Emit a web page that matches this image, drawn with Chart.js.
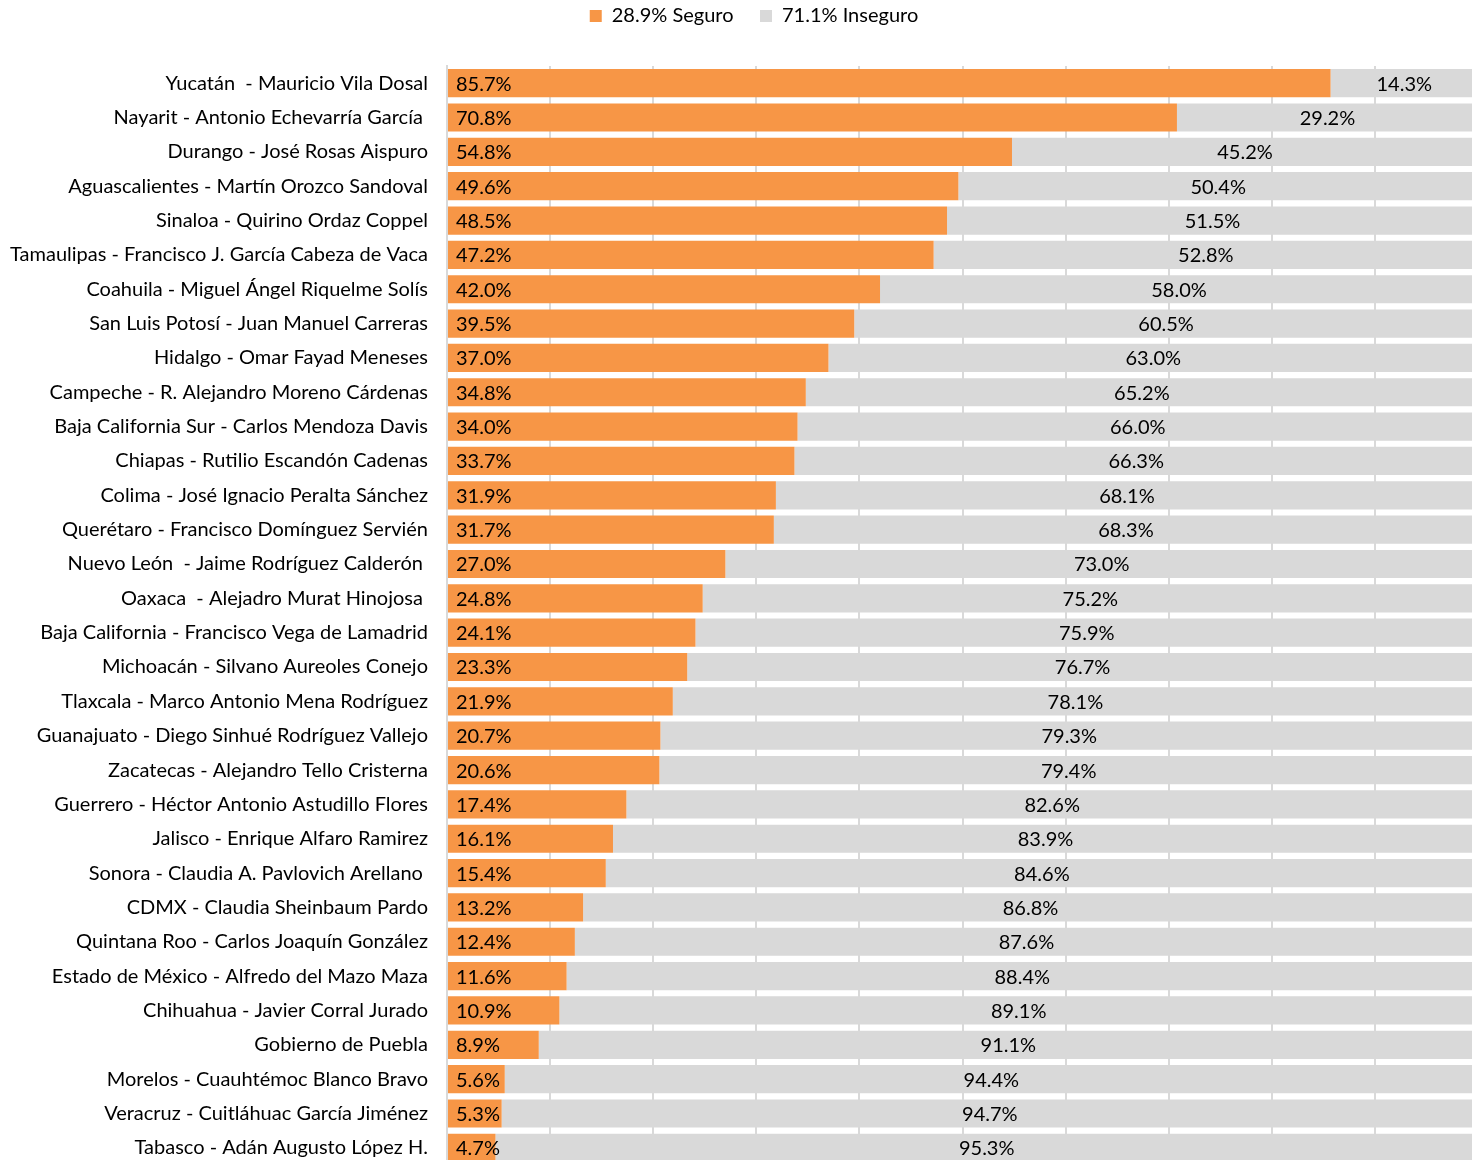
<!DOCTYPE html>
<html>
<head>
<meta charset="utf-8">
<script src="https://cdn.jsdelivr.net/npm/chart.js@4"></script>
<style>
  html, body { margin: 0; padding: 0; background: #fff; overflow: hidden; }
  canvas { display: block; }
</style>
</head>
<body>
<canvas id="myChart" width="1478" height="1177"></canvas>
<script>
var labels = [
    'Yucatán  - Mauricio Vila Dosal',
    'Nayarit - Antonio Echevarría García ',
    'Durango - José Rosas Aispuro',
    'Aguascalientes - Martín Orozco Sandoval',
    'Sinaloa - Quirino Ordaz Coppel',
    'Tamaulipas - Francisco J. García Cabeza de Vaca',
    'Coahuila - Miguel Ángel Riquelme Solís',
    'San Luis Potosí - Juan Manuel Carreras',
    'Hidalgo - Omar Fayad Meneses',
    'Campeche - R. Alejandro Moreno Cárdenas',
    'Baja California Sur - Carlos Mendoza Davis',
    'Chiapas - Rutilio Escandón Cadenas',
    'Colima - José Ignacio Peralta Sánchez',
    'Querétaro - Francisco Domínguez Servién',
    'Nuevo León  - Jaime Rodríguez Calderón ',
    'Oaxaca  - Alejadro Murat Hinojosa ',
    'Baja California - Francisco Vega de Lamadrid',
    'Michoacán - Silvano Aureoles Conejo',
    'Tlaxcala - Marco Antonio Mena Rodríguez',
    'Guanajuato - Diego Sinhué Rodríguez Vallejo',
    'Zacatecas - Alejandro Tello Cristerna',
    'Guerrero - Héctor Antonio Astudillo Flores',
    'Jalisco - Enrique Alfaro Ramirez',
    'Sonora - Claudia A. Pavlovich Arellano ',
    'CDMX - Claudia Sheinbaum Pardo',
    'Quintana Roo - Carlos Joaquín González',
    'Estado de México - Alfredo del Mazo Maza',
    'Chihuahua - Javier Corral Jurado',
    'Gobierno de Puebla',
    'Morelos - Cuauhtémoc Blanco Bravo',
    'Veracruz - Cuitláhuac García Jiménez',
    'Tabasco - Adán Augusto López H.'
];

var seguro = [85.7, 70.8, 54.8, 49.6, 48.5, 47.2, 42.0, 39.5, 37.0, 34.8, 34.0, 33.7, 31.9, 31.7, 27.0, 24.8,
              24.1, 23.3, 21.9, 20.7, 20.6, 17.4, 16.1, 15.4, 13.2, 12.4, 11.6, 10.9, 8.9, 5.6, 5.3, 4.7];
var inseguro = [14.3, 29.2, 45.2, 50.4, 51.5, 52.8, 58.0, 60.5, 63.0, 65.2, 66.0, 66.3, 68.1, 68.3, 73.0, 75.2,
                75.9, 76.7, 78.1, 79.3, 79.4, 82.6, 83.9, 84.6, 86.8, 87.6, 88.4, 89.1, 91.1, 94.4, 94.7, 95.3];

var seriesNames = ['28.9% Seguro', '71.1% Inseguro'];

var FONT = 'Lato, "Open Sans", sans-serif';

// draws the value text on each bar
var barText = {
    id: 'barText',
    afterDatasetsDraw: function(chart) {
        var ctx = chart.ctx;
        ctx.save();
        ctx.font = '20px ' + FONT;
        ctx.fillStyle = '#000';
        ctx.textBaseline = 'middle';
        chart.data.datasets.forEach(function(ds, i) {
            var meta = chart.getDatasetMeta(i);
            meta.data.forEach(function(bar, j) {
                var txt = ds.data[j].toFixed(1) + '%';
                if (i === 0) {
                    ctx.textAlign = 'left';
                    ctx.fillText(txt, bar.base + 8, bar.y + 1);
                } else {
                    ctx.textAlign = 'center';
                    ctx.fillText(txt, (bar.base + bar.x) / 2, bar.y + 1);
                }
            });
        });
        ctx.restore();
    }
};

// nudge the legend a bit to the right, like the original
var legendShift = {
    id: 'legendShift',
    afterLayout: function(chart) {
        if (chart.legend) {
            chart.legend.left += 15;
            chart.legend.right += 15;
        }
    }
};

var ctx = document.getElementById('myChart').getContext('2d');
var myChart = new Chart(ctx, {
    type: 'bar',
    data: {
        labels: labels,
        datasets: [{
            label: seriesNames[0],
            data: seguro,
            backgroundColor: '#F79646',
            barPercentage: 0.82,
            categoryPercentage: 1
        }, {
            label: seriesNames[1],
            data: inseguro,
            backgroundColor: '#D9D9D9',
            barPercentage: 0.82,
            categoryPercentage: 1
        }]
    },
    options: {
        indexAxis: 'y',
        responsive: false,
        animation: false,
        devicePixelRatio: 1,
        layout: { padding: 0 },
        plugins: {
            legend: {
                position: 'top',
                labels: {
                    font: { family: FONT, size: 20 },
                    color: '#000',
                    boxWidth: 12,
                    boxHeight: 12,
                    padding: 6,
                    generateLabels: function(chart) {
                        var items = Chart.defaults.plugins.legend.labels.generateLabels(chart);
                        items[0].text = items[0].text + '    ';
                        return items;
                    }
                }
            },
            tooltip: { enabled: false }
        },
        scales: {
            x: {
                position: 'top',
                stacked: true,
                min: 0,
                max: 100,
                ticks: { display: false, stepSize: 10 },
                grid: { color: '#D9D9D9', lineWidth: 2, drawTicks: true, tickLength: 30, tickColor: 'rgba(0,0,0,0)' },
                border: { display: false }
            },
            y: {
                stacked: true,
                ticks: { font: { family: FONT, size: 20 }, color: '#000', padding: 0, autoSkip: false },
                grid: { display: false, drawTicks: true, tickLength: 19 },
                border: { display: true, color: '#D9D9D9', width: 2 },
                afterFit: function(scale) { scale.width = 447; }
            }
        }
    },
    plugins: [barText, legendShift]
});
</script>
</body>
</html>
